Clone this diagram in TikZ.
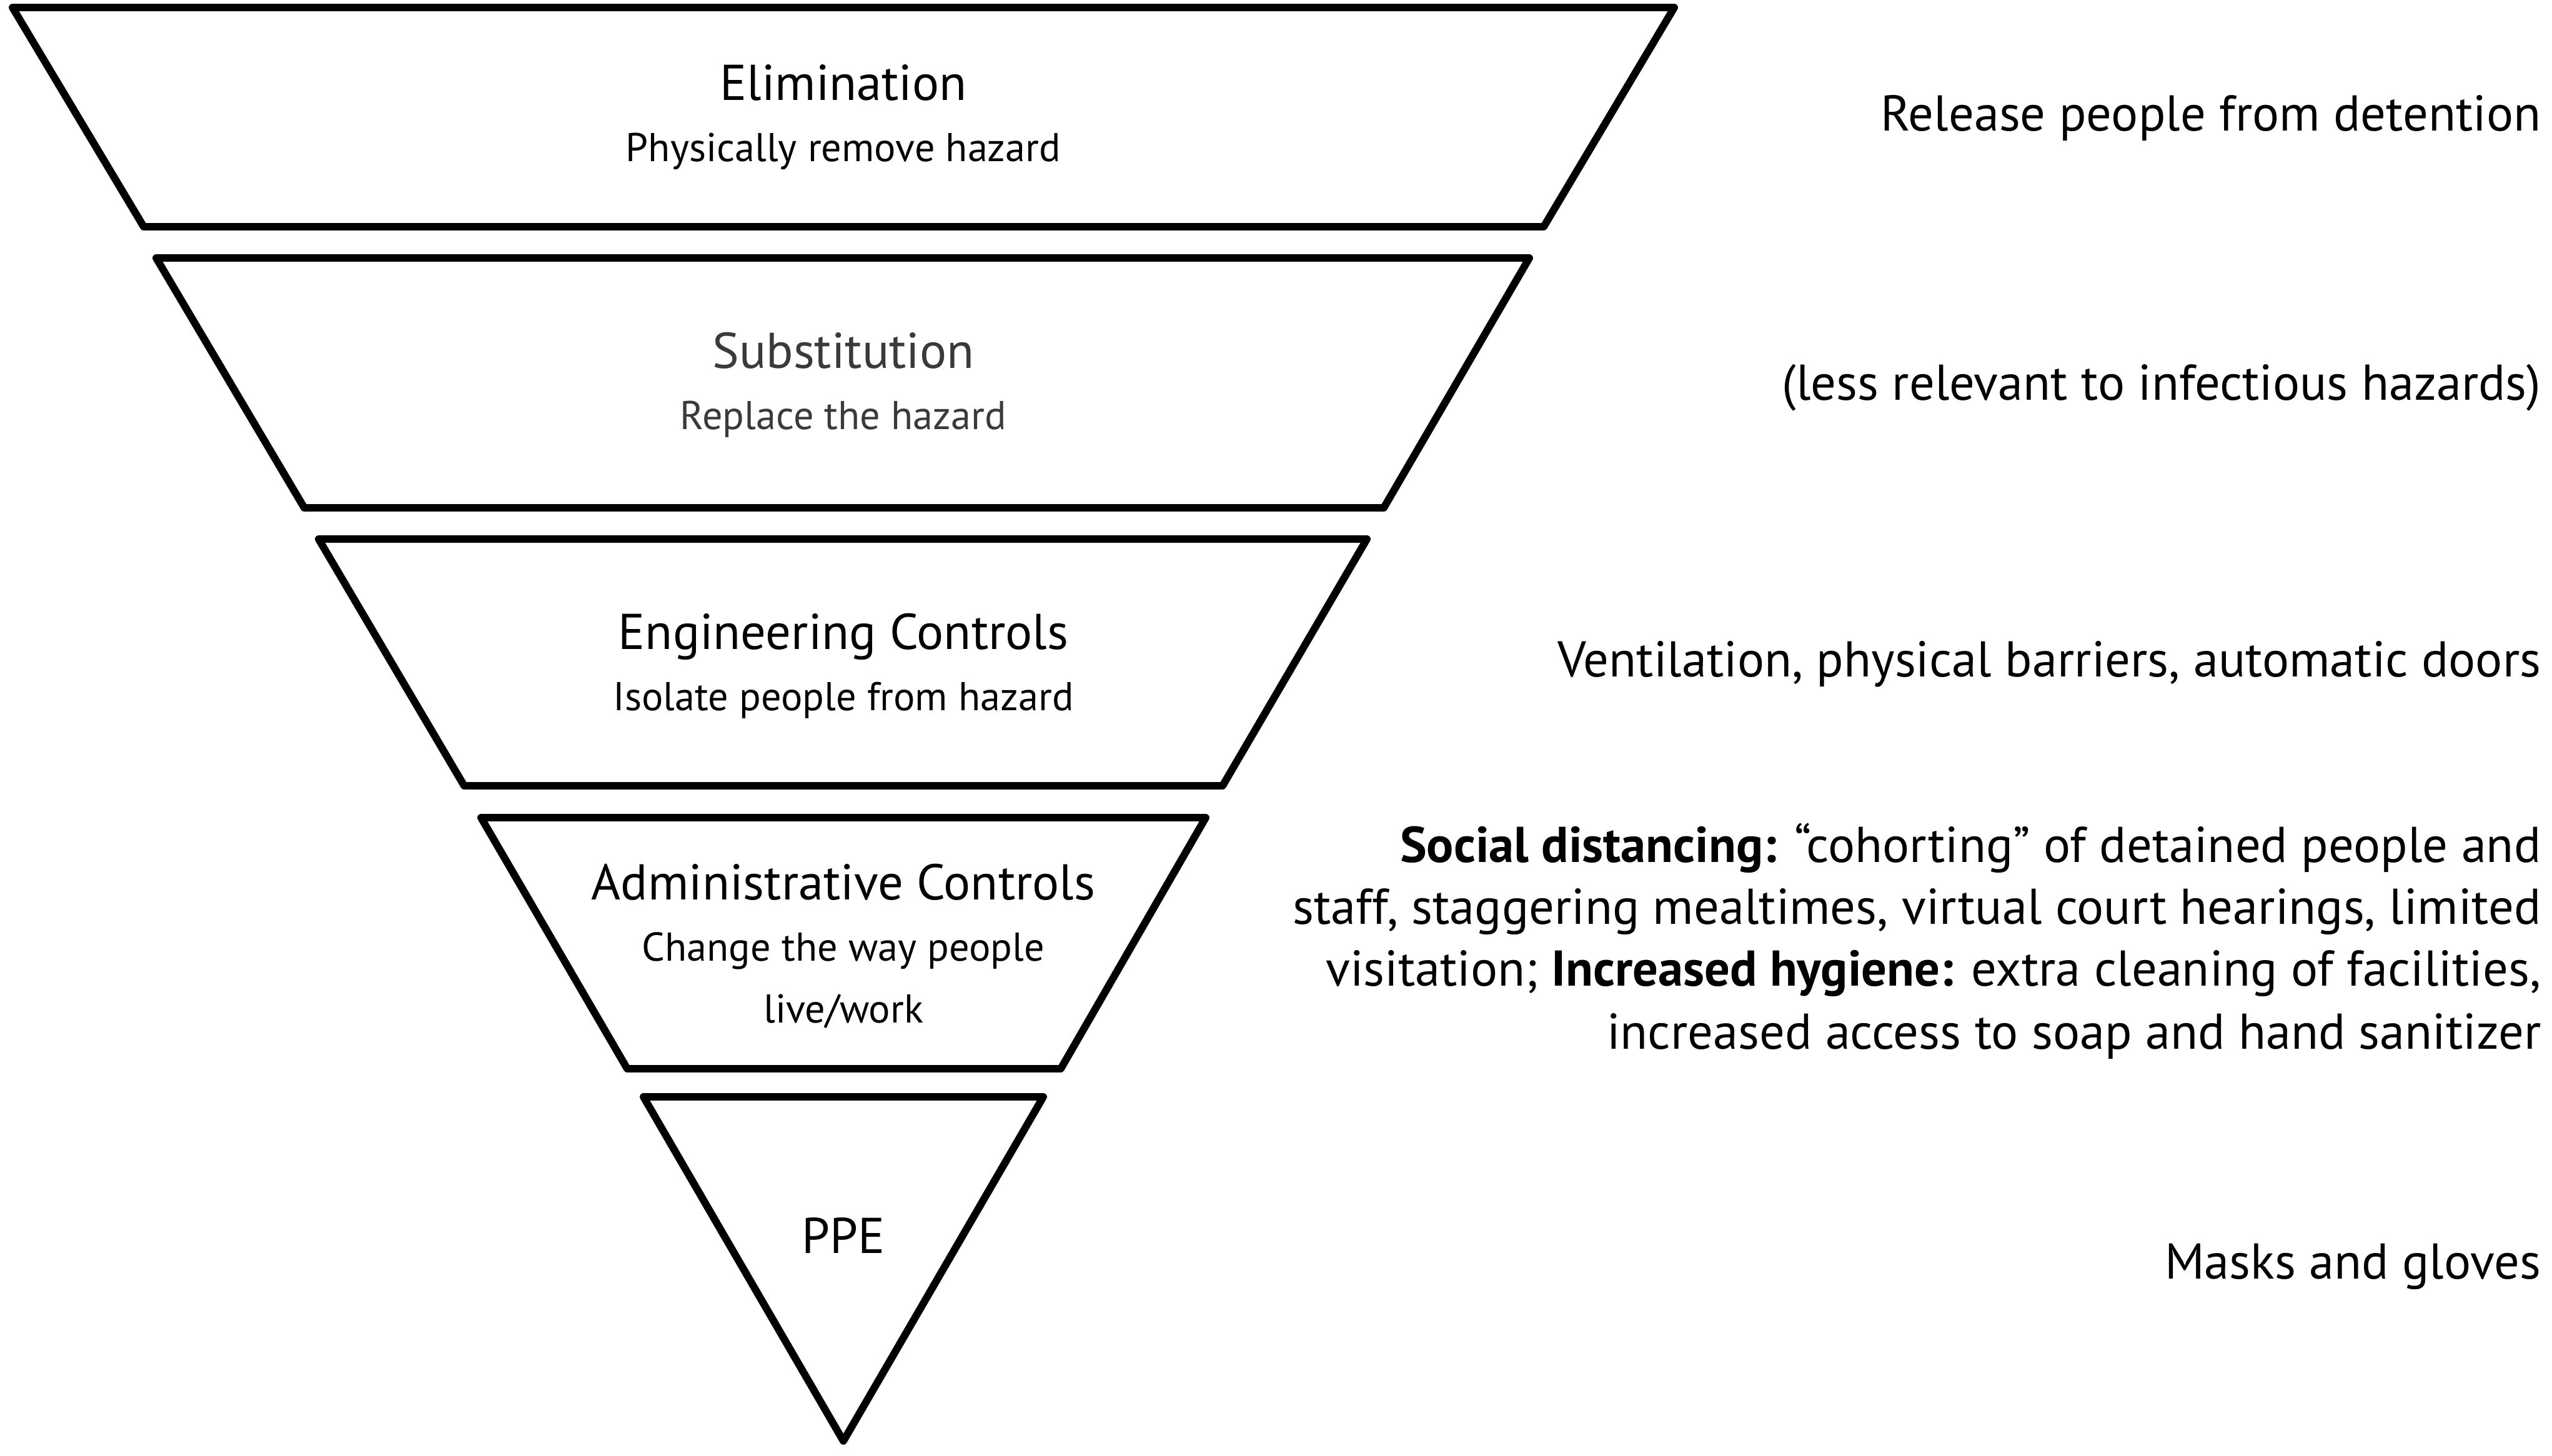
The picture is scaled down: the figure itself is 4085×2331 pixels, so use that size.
\documentclass[tikz,border=0pt]{standalone}
\usepackage{fontspec}
\setmainfont{PT Sans}
\definecolor{subgrey}{HTML}{3A3A3A}
\begin{document}
\begin{tikzpicture}[x=0.01cm,y=-0.01cm,
  tier/.style={draw=black,line width=3.4pt,line join=round},
  ttl/.style={anchor=base,inner sep=0pt,font=\fontsize{22.9}{28}\selectfont},
  sub/.style={anchor=base,inner sep=0pt,font=\fontsize{18.3}{27.9}\selectfont},
  rtxt/.style={anchor=base east,inner sep=0pt,font=\fontsize{22.9}{28.2}\selectfont}]
\useasboundingbox (0,0) rectangle (4085,2331);
% tiers
\draw[tier] (20,12) -- (2680,12) -- (2471,363) -- (230,363) -- cycle;
\draw[tier] (250,413) -- (2448,413) -- (2215,813) -- (487,813) -- cycle;
\draw[tier] (510,863) -- (2188,863) -- (1957,1258) -- (743,1258) -- cycle;
\draw[tier] (770,1309) -- (1930,1309) -- (1698,1711) -- (1004,1711) -- cycle;
\draw[tier] (1030,1756) -- (1670,1756) -- (1350,2307) -- cycle;
% labels in tiers
\node[ttl] (elim) at (1350,161) {Elimination};
\node[sub] (elimsub) at (1350,259) {Physically remove hazard};
\node[ttl,text=subgrey] (subst) at (1350,590) {Substitution};
\node[sub,text=subgrey] (substsub) at (1350,688) {Replace the hazard};
\node[ttl] (eng) at (1350,1039) {Engineering Controls};
\node[sub] (engsub) at (1350,1137) {Isolate people from hazard};
\node[ttl] (adm) at (1350,1440) {Administrative Controls};
\node[sub] (admsub1) at (1350,1538) {Change the way people};
\node[sub] (admsub2) at (1350,1637) {live/work};
\node[ttl] (ppe) at (1350,2006) {PPE};
% right column
\node[rtxt] (r1) at (4068,210) {Release people from detention};
\node[rtxt] (r2) at (4068,640) {(less relevant to infectious hazards)};
\node[rtxt] (r3) at (4068,1083) {Ventilation, physical barriers, automatic doors};
\node[rtxt] (r4a) at (4068,1380) {\textbf{Social distancing:} “cohorting” of detained people and};
\node[rtxt] (r4b) at (4068,1479) {staff, staggering mealtimes, virtual court hearings, limited};
\node[rtxt] (r4c) at (4068,1578) {visitation; \textbf{Increased hygiene:} extra cleaning of facilities,};
\node[rtxt] (r4d) at (4068,1679) {increased access to soap and hand sanitizer};
\node[rtxt] (r5) at (4068,2047) {Masks and gloves};
\end{tikzpicture}
\end{document}
